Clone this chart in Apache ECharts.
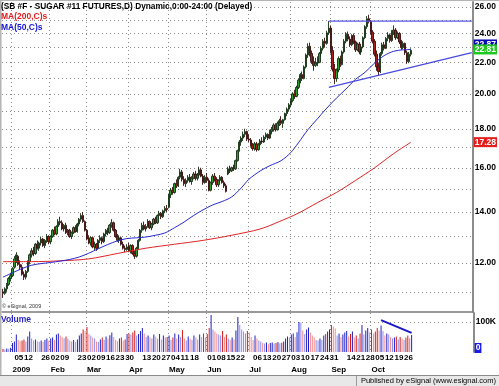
<!DOCTYPE html>
<html><head><meta charset="utf-8">
<script src="https://cdn.jsdelivr.net/npm/echarts@6/dist/echarts.min.js"></script>
<style>html,body{margin:0;padding:0;background:#fff}#c{width:499px;height:386px}</style>
</head><body><div id="c"></div>
<script>
// ---------- calendar ----------
const startDate = '2008-12-24';
const slotCount = 247;
const holidays = ['2008-12-25','2009-01-01','2009-01-19','2009-02-16','2009-04-10','2009-05-25','2009-07-03','2009-09-07','2009-11-26','2009-12-25'];

// ---------- tick labels ----------
const dayTicks = ['2009-01-05','2009-01-12','2009-01-26','2009-02-02','2009-02-09','2009-02-23','2009-03-02','2009-03-09','2009-03-16','2009-03-23','2009-03-30','2009-04-13','2009-04-20','2009-04-27','2009-05-04','2009-05-11','2009-05-18','2009-06-01','2009-06-08','2009-06-15','2009-06-22','2009-07-06','2009-07-13','2009-07-20','2009-07-27','2009-08-03','2009-08-10','2009-08-17','2009-08-24','2009-08-31','2009-09-14','2009-09-21','2009-09-28','2009-10-05','2009-10-12','2009-10-19','2009-10-26'];
const monthTicks = ['2009-01-02','2009-02-02','2009-03-02','2009-04-01','2009-05-01','2009-06-01','2009-07-01','2009-08-03','2009-09-01','2009-10-01'];
const monthLabels = ['2009','Feb','Mar','Apr','May','Jun','Jul','Aug','Sep','Oct'];
const priceGridValues = [11,12,13,14,15,16,17,18,19,20,21,22,23,24,25,26];
const priceLabelValues = [12,14,16,18,20,22,24,26];
const volTickValues = [100000];
const volTickLabels = ['100K'];

// ---------- daily OHLC [open, high, low, close] ----------
const ohlcDec08 = [[11.00,11.10,10.80,10.95],[10.95,11.15,10.90,11.10],[11.10,11.30,11.00,11.25],[11.25,11.50,11.20,11.45],[11.45,11.65,11.35,11.55]];
const ohlcJan = [[11.55,11.85,11.50,11.80],[11.85,12.25,11.80,12.15],[12.15,12.40,12.00,12.30],[12.25,12.30,11.90,11.95],[11.95,12.10,11.75,11.85],[11.85,11.95,11.55,11.60],[11.60,11.70,11.40,11.50],[11.50,11.75,11.42,11.70],[11.70,12.10,11.65,12.05],[12.05,12.35,11.95,12.30],[12.30,12.55,12.20,12.45],[12.45,12.60,12.25,12.35],[12.35,12.75,12.30,12.70],[12.70,12.85,12.50,12.55],[12.55,12.80,12.45,12.75],[12.75,13.00,12.65,12.90],[12.90,12.95,12.60,12.65],[12.65,12.90,12.55,12.85],[12.85,13.10,12.75,13.00],[13.00,13.05,12.70,12.80]];
const ohlcFeb = [[12.80,13.05,12.70,13.00],[13.00,13.30,12.95,13.25],[13.25,13.40,13.05,13.10],[13.10,13.45,13.05,13.40],[13.40,13.70,13.35,13.60],[13.60,13.80,13.45,13.55],[13.55,13.65,13.25,13.30],[13.30,13.50,13.20,13.45],[13.45,13.55,13.10,13.15],[13.15,13.30,13.05,13.25],[13.25,13.30,12.95,13.00],[13.00,13.20,12.90,13.15],[13.15,13.40,13.10,13.35],[13.35,13.45,13.15,13.20],[13.20,13.55,13.15,13.50],[13.50,13.75,13.40,13.70],[13.70,13.95,13.60,13.85],[13.85,14.00,13.55,13.60],[13.60,13.65,13.20,13.25]];
const ohlcMar = [[13.25,13.30,12.85,12.90],[12.90,13.05,12.70,12.75],[12.75,13.00,12.65,12.95],[12.95,13.00,12.55,12.60],[12.60,12.80,12.45,12.70],[12.70,12.75,12.45,12.55],[12.55,12.90,12.50,12.85],[12.85,13.05,12.75,12.95],[12.95,13.00,12.70,12.80],[12.80,13.15,12.75,13.10],[13.10,13.30,13.00,13.25],[13.25,13.35,13.05,13.15],[13.15,13.50,13.10,13.45],[13.45,13.70,13.35,13.55],[13.55,13.60,13.20,13.25],[13.25,13.30,12.95,13.00],[13.00,13.10,12.80,12.85],[12.85,13.05,12.75,12.95],[12.95,13.00,12.65,12.70],[12.70,12.80,12.50,12.55],[12.55,12.65,12.40,12.50],[12.50,12.70,12.45,12.60]];
const ohlcApr = [[12.60,12.75,12.40,12.45],[12.45,12.70,12.35,12.65],[12.65,12.70,12.30,12.35],[12.35,12.45,12.15,12.25],[12.25,12.60,12.20,12.55],[12.55,12.90,12.50,12.85],[12.85,13.30,12.80,13.25],[13.25,13.55,13.15,13.45],[13.45,13.60,13.25,13.30],[13.30,13.50,13.20,13.40],[13.40,13.70,13.35,13.60],[13.60,13.65,13.30,13.35],[13.35,13.55,13.25,13.50],[13.50,13.75,13.45,13.70],[13.70,13.80,13.50,13.55],[13.55,13.90,13.50,13.85],[13.85,14.05,13.75,13.95],[13.95,14.00,13.70,13.80],[13.80,14.10,13.75,14.05],[14.05,14.25,13.95,14.15],[14.15,14.30,14.00,14.10]];
const ohlcMay = [[14.20,14.80,14.15,14.75],[14.75,15.05,14.60,14.95],[14.95,15.10,14.75,14.85],[14.85,15.30,14.80,15.25],[15.25,15.45,15.05,15.15],[15.15,15.60,15.10,15.55],[15.55,15.95,15.45,15.80],[15.80,15.90,15.35,15.45],[15.45,15.60,15.15,15.25],[15.25,15.50,15.10,15.40],[15.40,15.65,15.30,15.55],[15.55,15.70,15.30,15.35],[15.35,15.60,15.20,15.50],[15.50,15.80,15.45,15.70],[15.70,15.85,15.40,15.50],[15.50,15.75,15.40,15.65],[15.65,16.05,15.60,15.90],[15.90,16.00,15.55,15.60],[15.60,15.70,15.20,15.30],[15.30,15.65,15.25,15.55]];
const ohlcJun = [[15.55,15.75,15.30,15.40],[15.40,15.50,14.90,14.95],[14.95,15.35,14.90,15.30],[15.30,15.70,15.20,15.60],[15.60,15.75,15.35,15.45],[15.45,15.55,15.10,15.20],[15.20,15.45,15.10,15.40],[15.40,15.65,15.30,15.55],[15.55,15.60,15.25,15.30],[15.30,15.40,15.05,15.15],[15.15,15.25,14.85,14.90],[15.70,16.05,15.65,15.95],[15.95,16.10,15.75,15.85],[15.85,16.05,15.80,16.00],[16.00,16.15,15.85,15.95],[15.95,16.40,15.90,16.35],[16.35,16.90,16.30,16.85],[16.85,17.40,16.80,17.30],[17.30,17.60,17.10,17.50],[17.50,17.85,17.35,17.70],[17.70,18.00,17.55,17.85],[17.85,17.90,17.35,17.45]];
const ohlcJul = [[17.45,17.70,17.30,17.40],[17.40,17.50,17.05,17.15],[17.15,17.25,16.85,16.95],[16.95,17.30,16.85,17.20],[17.20,17.30,16.80,16.90],[16.90,17.25,16.85,17.15],[17.15,17.45,17.05,17.35],[17.35,17.55,17.20,17.30],[17.30,17.65,17.25,17.55],[17.55,17.80,17.45,17.70],[17.70,17.75,17.40,17.50],[17.50,17.95,17.45,17.85],[17.85,18.10,17.70,17.95],[17.95,18.30,17.85,18.20],[18.20,18.30,17.85,17.95],[17.95,18.40,17.90,18.30],[18.30,18.55,18.15,18.45],[18.45,18.70,18.20,18.30],[18.30,18.55,18.05,18.50],[18.50,18.90,18.45,18.85],[18.85,19.20,18.70,19.10],[19.10,19.45,18.95,19.35]];
const ohlcAug = [[19.35,19.70,19.20,19.60],[19.60,20.10,19.50,20.00],[20.00,20.25,19.70,19.85],[19.85,20.50,19.80,20.40],[20.40,20.95,20.30,20.85],[20.85,21.30,20.65,21.20],[21.20,21.40,20.80,20.95],[20.95,21.80,20.90,21.70],[21.70,22.60,21.60,22.50],[22.50,23.30,22.30,23.10],[23.10,23.35,22.40,22.60],[22.60,22.80,21.90,22.05],[22.05,22.40,21.45,21.80],[21.80,22.30,21.70,21.95],[21.95,22.40,21.75,22.00],[22.00,22.70,21.95,22.60],[22.60,23.10,22.40,22.95],[22.95,23.60,22.80,23.45],[23.45,23.70,23.00,23.30],[23.30,24.20,23.20,24.05],[24.05,24.92,23.90,24.40]];
const ohlcSep = [[24.40,24.60,22.60,22.80],[22.80,23.10,21.40,21.55],[21.55,21.90,20.60,20.95],[20.95,21.60,20.75,21.50],[21.50,22.40,21.35,22.25],[22.25,22.45,21.70,21.85],[21.85,22.80,21.80,22.70],[22.70,23.60,22.60,23.45],[23.45,24.10,23.30,23.95],[23.95,24.15,23.45,23.60],[23.60,23.80,23.05,23.20],[23.20,23.95,23.10,23.85],[23.85,24.00,23.25,23.40],[23.40,23.50,22.70,22.85],[22.85,23.35,22.75,23.25],[23.25,23.40,22.55,22.70],[22.70,23.15,22.50,23.05],[23.05,23.80,22.95,23.70],[23.70,24.60,23.60,24.50],[24.50,25.30,24.35,25.10],[25.10,25.40,24.75,24.90]];
const ohlcOct = [[24.90,25.00,23.95,24.10],[24.10,24.25,23.30,23.45],[23.45,23.60,22.40,22.55],[22.55,22.80,21.45,21.70],[21.70,21.95,21.15,21.40],[21.40,22.70,21.30,22.60],[22.60,23.35,22.45,23.20],[23.20,23.40,22.80,22.95],[22.95,23.75,22.90,23.65],[23.65,24.10,23.45,23.90],[23.90,24.00,23.35,23.50],[23.50,24.25,23.40,24.10],[24.10,24.60,23.90,24.25],[24.25,24.40,23.55,23.70],[23.70,24.15,23.60,24.00],[24.00,24.10,23.25,23.40],[23.40,23.55,22.85,23.00],[23.00,23.45,22.90,23.30],[23.30,23.35,22.50,22.65],[22.65,22.80,21.90,22.05],[22.05,22.70,21.95,22.55],[22.55,22.95,22.40,22.81]];

// ---------- daily volume (thousands) ----------
const volDec08 = [10,8,12,11,14];
const volJan = [30,35,58,40,36,38,42,35,52,68,45,38,42,36,34,38,33,40,45,38];
const volFeb = [45,48,40,58,62,55,50,46,52,44,38,35,40,33,42,55,62,75,70];
const volMar = [83,60,55,48,45,35,33,42,48,40,52,45,56,65,50,40,36,45,48,38,42,60];
const volApr = [62,58,65,72,55,60,70,80,62,50,55,48,45,58,52,44,60,42,55,48,50];
const volMay = [55,40,48,62,45,58,50,73,45,38,52,44,40,55,48,42,58,50,62,48];
const volJun = [60,80,123,75,68,62,58,55,70,50,58,45,40,48,42,72,117,90,75,68,62,70];
const volJul = [65,50,40,55,45,38,35,30,28,32,26,30,32,28,30,33,29,31,35,45,52,48];
const volAug = [58,62,50,66,100,98,72,60,75,82,65,55,48,40,38,45,40,55,60,68,75];
const volSep = [90,85,78,55,62,50,58,65,70,52,60,68,48,55,45,62,90,58,72,80,66];
const volOct = [75,62,68,80,72,88,70,55,62,58,50,45,48,52,42,50,45,40,48,55,46,57];

// ---------- moving averages ----------
const ma50Points = [['2008-12-24',11.50],['2009-01-02',11.65],['2009-01-09',11.80],['2009-01-16',11.92],['2009-01-26',11.98],['2009-02-02',12.02],['2009-02-09',12.07],['2009-02-17',12.13],['2009-02-24',12.22],['2009-03-03',12.36],['2009-03-10',12.53],['2009-03-17',12.69],['2009-03-24',12.83],['2009-03-31',12.92],['2009-04-07',12.95],['2009-04-15',12.98],['2009-04-22',13.05],['2009-04-29',13.14],['2009-05-06',13.35],['2009-05-13',13.58],['2009-05-20',13.85],['2009-05-28',14.09],['2009-06-04',14.30],['2009-06-11',14.45],['2009-06-18',14.65],['2009-06-25',15.05],['2009-07-01',15.45],['2009-07-10',15.85],['2009-07-17',16.10],['2009-07-27',16.35],['2009-08-03',16.75],['2009-08-07',17.25],['2009-08-14',17.95],['2009-08-21',18.55],['2009-08-27',19.05],['2009-09-04',19.75],['2009-09-14',20.30],['2009-09-21',20.90],['2009-09-28',21.35],['2009-10-05',21.95],['2009-10-12',22.45],['2009-10-19',22.75],['2009-10-26',22.85],['2009-10-30',22.87]];
const ma200Points = [['2008-12-24',12.05],['2009-01-16',12.05],['2009-02-09',12.08],['2009-03-03',12.15],['2009-03-24',12.35],['2009-04-15',12.55],['2009-05-06',12.70],['2009-05-28',12.85],['2009-06-18',13.05],['2009-07-10',13.30],['2009-07-24',13.60],['2009-08-07',13.95],['2009-08-21',14.40],['2009-09-04',14.85],['2009-09-21',15.40],['2009-10-05',16.00],['2009-10-19',16.70],['2009-10-30',17.28]];

// ---------- drawn trend lines (date, value) ----------
const trendTopStart = ['2009-08-31', 24.92];
const trendTopEndValue = 24.92;
const trendLowStart = ['2009-08-31', 20.40];
const trendLowEndValue = 22.66;
const volTrend = [['2009-10-08', 106], ['2009-10-30', 64]];

// ---------- build ----------
function buildDates(start, n) {
  const out = []; const d = new Date(start + 'T00:00:00Z');
  while (out.length < n) {
    const wd = d.getUTCDay(); const s = d.toISOString().slice(0, 10);
    if (wd !== 0 && wd !== 6 && holidays.indexOf(s) < 0) out.push(s);
    d.setUTCDate(d.getUTCDate() + 1);
  }
  return out;
}
const dates = buildDates(startDate, slotCount);
const lastDate = dates[dates.length - 1];
const ohlc = [].concat(ohlcDec08, ohlcJan, ohlcFeb, ohlcMar, ohlcApr, ohlcMay, ohlcJun, ohlcJul, ohlcAug, ohlcSep, ohlcOct);
const vols = [].concat(volDec08, volJan, volFeb, volMar, volApr, volMay, volJun, volJul, volAug, volSep, volOct);
const LN = Math.log;
const candleData = ohlc.map(([o, h, l, c]) => [LN(o), LN(c), LN(l), LN(h)]);
const lastClose = ohlc[ohlc.length - 1][3];
const lastMa50 = ma50Points[ma50Points.length - 1][1];
const lastMa200 = ma200Points[ma200Points.length - 1][1];
const monthSet = new Set(monthTicks), daySet = new Set(dayTicks);
const monthName = {}; monthTicks.forEach((d, i) => monthName[d] = monthLabels[i]);

const volColors = vols.map((v, i) => {
  const [o, , , c] = ohlc[i];
  const up = c >= o;
  const dark = i === 0 || v >= vols[i - 1];
  return up ? (dark ? '#2020c8' : '#8c8cf0') : (dark ? '#d41c1c' : '#f28c8c');
});

const FONT = 'Liberation Sans';
const dotted = { color: '#8c8c8c', type: [1, 3], width: 1 };
const boxLabel = (txt, bg, extra) => Object.assign({
  show: true, position: 'end', distance: 1, formatter: txt, color: '#fff', backgroundColor: bg, opacity: 1,
  fontFamily: FONT, fontWeight: 'bold', fontSize: 8.5, padding: [1, 1, 0, 1], lineHeight: 9
}, extra || {});
const hiddenLine = { color: 'rgba(0,0,0,0)', width: 1, type: 'solid' };

const option = {
  animation: false,
  backgroundColor: '#ffffff',
  grid: [
    { left: 2, right: 24, top: 2, height: 310 },
    { left: 2, right: 24, top: 313, height: 39 }
  ],
  xAxis: [
    { type: 'category', gridIndex: 0, data: dates,
      axisLine: { show: true, lineStyle: { color: '#7a7a7a', width: 1.5 } },
      axisTick: { show: false }, axisLabel: { show: false },
      splitLine: { show: true, interval: (i, v) => monthSet.has(v), lineStyle: dotted } },
    { type: 'category', gridIndex: 1, data: dates,
      axisLine: { show: false }, axisTick: { show: false },
      axisLabel: { show: true, interval: (i, v) => daySet.has(v), formatter: v => v.slice(8),
        align: 'left', margin: 2, fontFamily: FONT, fontSize: 8, fontWeight: 'bold', color: '#000' },
      splitLine: { show: true, interval: (i, v) => monthSet.has(v), lineStyle: dotted } },
    { type: 'category', gridIndex: 1, data: dates, position: 'bottom', offset: 12,
      axisLine: { show: false }, axisTick: { show: false }, splitLine: { show: false },
      axisLabel: { show: true, interval: (i, v) => monthSet.has(v), formatter: v => monthName[v] || '',
        align: 'left', margin: 2, fontFamily: FONT, fontSize: 8, fontWeight: 'bold', color: '#000' } }
  ],
  yAxis: [
    { type: 'value', gridIndex: 0, position: 'right', min: LN(10.35), max: LN(26.4),
      axisLine: { show: true, lineStyle: { color: '#8c8c8c', width: 2 } },
      axisTick: { show: false, customValues: priceGridValues.map(LN) },
      axisLabel: { customValues: priceLabelValues.map(LN), formatter: v => Math.exp(v).toFixed(2),
        margin: 2, fontFamily: FONT, fontSize: 8.5, fontWeight: 'bold', color: '#000' },
      splitLine: { show: true, lineStyle: dotted } },
    { type: 'value', gridIndex: 1, position: 'right', min: 0, max: 130,
      axisLine: { show: true, lineStyle: { color: '#8c8c8c', width: 2 } },
      axisTick: { show: false, customValues: volTickValues.map(v => v / 1000) },
      axisLabel: { customValues: volTickValues.map(v => v / 1000), formatter: v => volTickLabels[volTickValues.indexOf(Math.round(v * 1000))] || '',
        margin: 2, fontFamily: FONT, fontSize: 8.5, fontWeight: 'bold', color: '#000' },
      splitLine: { show: true, lineStyle: dotted } }
  ],
  series: [
    { type: 'candlestick', xAxisIndex: 0, yAxisIndex: 0, data: candleData, barWidth: 1.9, z: 2,
      itemStyle: { color: '#2f9e2f', color0: '#a81c1c', borderColor: '#142e14', borderColor0: '#3a0c0c', borderWidth: 0.9 },
      markLine: { silent: true, clip: false, symbol: ['none', 'none'], z: 8, lineStyle: hiddenLine,
        data: [{ yAxis: LN(lastClose), label: boxLabel(lastClose.toFixed(2), '#1ec81e') }] } },
    { type: 'line', name: 'MA200', xAxisIndex: 0, yAxisIndex: 0, z: 3, smooth: 0.3, showSymbol: false, symbol: 'none',
      data: ma200Points.map(([d, v]) => [d, LN(v)]), lineStyle: { color: '#e02424', width: 1 },
      markLine: { silent: true, clip: false, symbol: ['none', 'none'], z: 7, lineStyle: hiddenLine,
        data: [{ yAxis: LN(lastMa200), label: boxLabel(lastMa200.toFixed(2), '#e41c1c') }] } },
    { type: 'line', name: 'MA50', xAxisIndex: 0, yAxisIndex: 0, z: 3, smooth: 0.3, showSymbol: false, symbol: 'none',
      data: ma50Points.map(([d, v]) => [d, LN(v)]), lineStyle: { color: '#2828d0', width: 1 },
      markLine: { silent: true, clip: false, symbol: ['none', 'none'], z: 6, lineStyle: hiddenLine,
        data: [{ yAxis: LN(lastMa50), label: boxLabel(lastMa50.toFixed(2), '#0a0ab4', { offset: [0, -5] }) }] } },
    { type: 'line', xAxisIndex: 0, yAxisIndex: 0, z: 4, symbol: 'none',
      data: [[trendTopStart[0], LN(trendTopStart[1])], [lastDate, LN(trendTopEndValue)]],
      lineStyle: { color: '#5656e0', width: 1.3 } },
    { type: 'line', xAxisIndex: 0, yAxisIndex: 0, z: 4, symbol: 'none',
      data: [[trendLowStart[0], LN(trendLowStart[1])], [lastDate, LN(trendLowEndValue)]],
      lineStyle: { color: '#4a4ade', width: 1.4 } },
    { type: 'bar', xAxisIndex: 1, yAxisIndex: 1, data: vols, barWidth: 1, z: 2,
      itemStyle: { color: p => volColors[p.dataIndex] },
      markLine: { silent: true, clip: false, symbol: ['none', 'none'], z: 6, lineStyle: hiddenLine,
        data: [{ yAxis: 0, label: boxLabel('0', '#1a1ae6', { offset: [0, -4] }) }] } },
    { type: 'line', xAxisIndex: 1, yAxisIndex: 1, z: 4, symbol: 'none', data: volTrend,
      lineStyle: { color: '#1818c8', width: 2 } }
  ],
  graphic: [
    { type: 'rect', z: 100, shape: { x: 0, y: 375, width: 499, height: 11 }, style: { fill: '#e8e8e8' } },
    { type: 'line', z: 101, shape: { x1: 0, y1: 375.5, x2: 499, y2: 375.5 }, style: { stroke: '#8a8a8a', lineWidth: 1 } },
    { type: 'line', z: 101, shape: { x1: 356.5, y1: 376, x2: 356.5, y2: 386 }, style: { stroke: '#9a9a9a', lineWidth: 1 } },
    { type: 'line', z: 101, shape: { x1: 0.75, y1: 0, x2: 0.75, y2: 375 }, style: { stroke: '#b4b4b4', lineWidth: 1.5 } },
    { type: 'line', z: 101, shape: { x1: 0, y1: 0.5, x2: 499, y2: 0.5 }, style: { stroke: '#b4b4b4', lineWidth: 1 } },
    { type: 'text', z: 102, x: 496, y: 381, style: { text: 'Published by eSignal (www.esignal.com)', fill: '#000', font: '7.5px "Liberation Sans"', textAlign: 'right', textVerticalAlign: 'middle' } },
    { type: 'text', z: 102, x: 1, y: 7, style: { text: '(SB #F - SUGAR #11 FUTURES,D) Dynamic,0:00-24:00 (Delayed)', fill: '#000', font: 'bold 8.3px "Liberation Sans"', textVerticalAlign: 'middle' } },
    { type: 'text', z: 102, x: 1, y: 17, style: { text: 'MA(200,C)s', fill: '#e41c1c', font: 'bold 8.5px "Liberation Sans"', textVerticalAlign: 'middle' } },
    { type: 'text', z: 102, x: 1, y: 27.5, style: { text: 'MA(50,C)s', fill: '#1414d2', font: 'bold 8.5px "Liberation Sans"', textVerticalAlign: 'middle' } },
    { type: 'text', z: 102, x: 2, y: 306.5, style: { text: '\u00a9 eSignal, 2009', fill: '#333', font: '5.5px "Liberation Sans"', textVerticalAlign: 'middle' } },
    { type: 'text', z: 102, x: 1, y: 320, style: { text: 'Volume', fill: '#2424c0', font: 'bold 8.5px "Liberation Sans"', textVerticalAlign: 'middle' } }
  ]
};
const chart = echarts.init(document.getElementById('c'), null, { renderer: 'canvas' });
chart.setOption(option);
</script>
</body></html>
